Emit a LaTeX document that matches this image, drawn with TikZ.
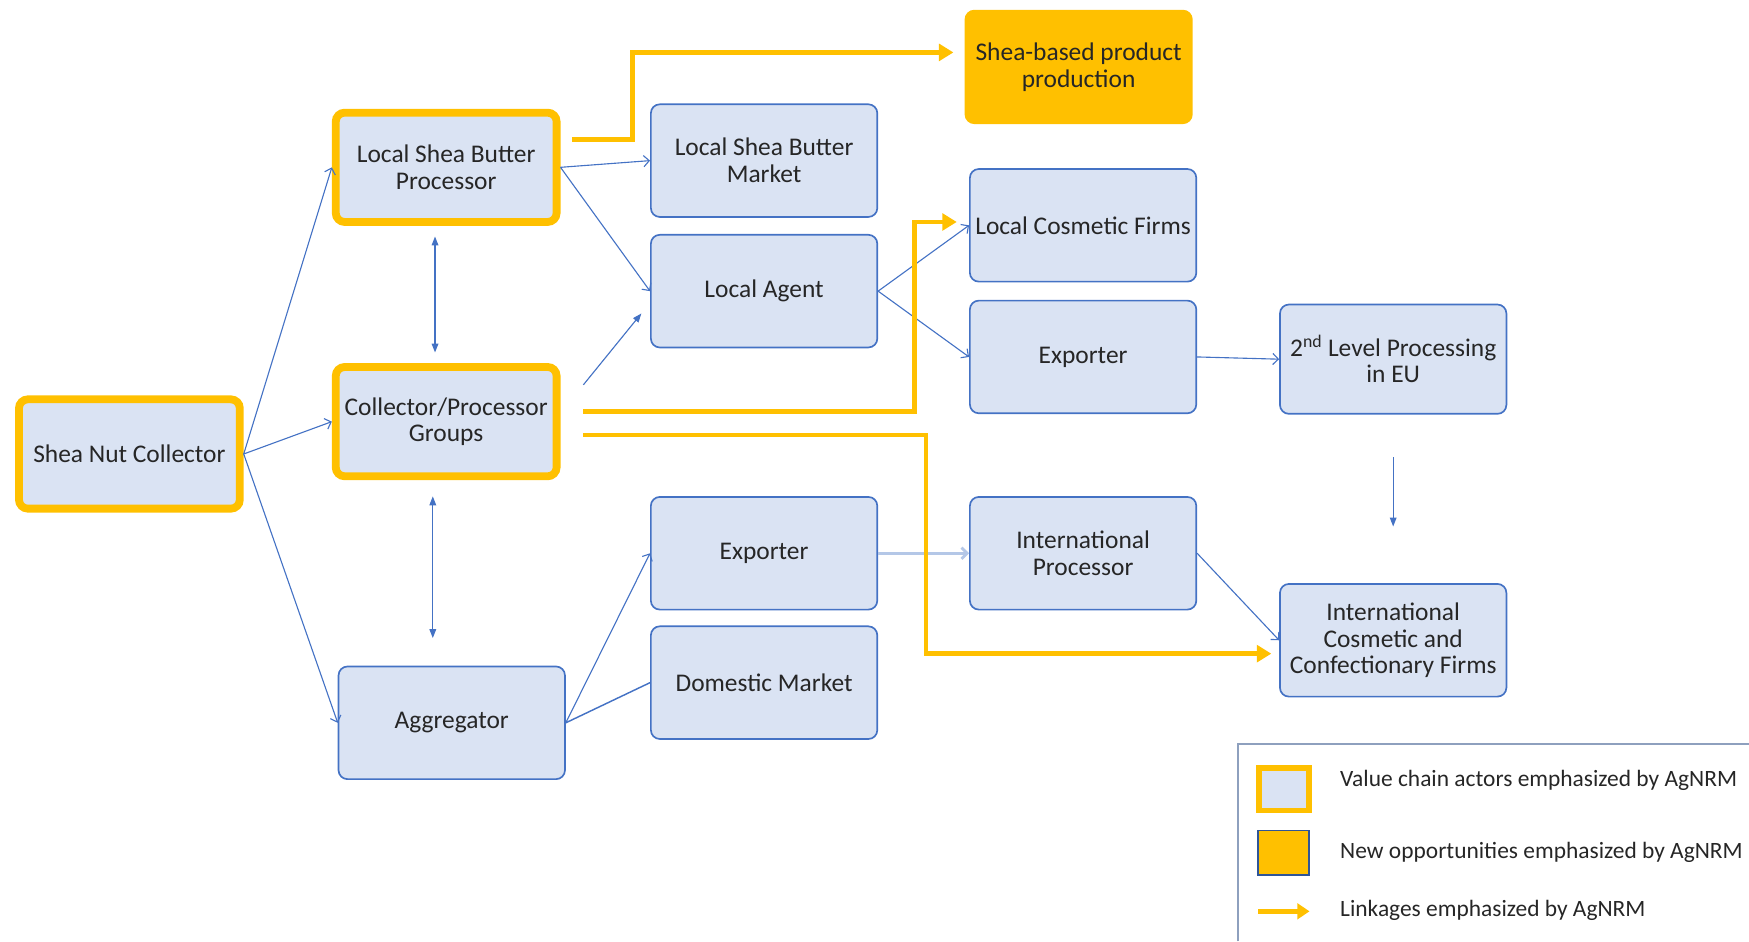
\documentclass[tikz,border=0pt]{standalone}
\usepackage{fontspec}
\setmainfont{Carlito}
\usetikzlibrary{arrows.meta,calc}
\definecolor{bfill}{HTML}{DAE3F3}
\definecolor{bline}{HTML}{4472C4}
\definecolor{orng}{HTML}{FFC000}
\definecolor{paleblue}{HTML}{B4C7E7}
\definecolor{darkblue}{HTML}{2F5597}
\definecolor{legline}{HTML}{8EA0BE}
\begin{document}
\begin{tikzpicture}[x=1pt,y=-1pt,
  box/.style={rounded corners=8pt, fill=bfill, draw=bline, line width=1.5pt,
    minimum width=203pt, minimum height=101pt, align=center, inner sep=2pt,
    text=black!85, font=\fontsize{22.8}{24}\selectfont},
  embox/.style={box, draw=orng, line width=7pt, minimum width=198pt, minimum height=98pt},
  bl/.style={draw=bline, line width=1pt, -{Straight Barb[length=5pt,width=10pt]}},
  tri/.style={draw=bline, line width=1pt, fill=bline},
  orline/.style={draw=orng, line width=4pt, -{Triangle[length=13pt,width=15pt]}},
  legtext/.style={anchor=west, text=black!85, font=\fontsize{21}{22}\selectfont}
]
\useasboundingbox (0,0) rectangle (1568,844);

% nodes
\node[embox] (snc) at (116,407) {Shea Nut Collector};
\node[embox] (lsbp) at (400,150) {Local Shea Butter\\Processor};
\node[embox] (cpg) at (400,378) {Collector/Processor\\Groups};
\node[box] (agg) at (405,648) {Aggregator};
\node[box] (lsbm) at (685,144) {Local Shea Butter\\Market};
\node[box] (la) at (685,261) {Local Agent};
\node[box] (exp1) at (685,496) {Exporter};
\node[box] (dom) at (685,612) {Domestic Market};
\node[box, fill=orng, draw=orng] (shea) at (967,60) {Shea-based product\\production};
\node[box] (lcf) at (971,202) {Local Cosmetic Firms};
\node[box] (exp2) at (971,320) {Exporter};
\node[box, minimum height=98pt] (lvl2) at (1249,322) {2\textsuperscript{nd} Level Processing\\in EU};
\node[box] (ip) at (971,496) {International\\Processor};
\node[box] (icc) at (1249,574) {International\\Cosmetic and\\Confectionary Firms};

% blue connectors
\draw[bl] (snc.east) -- (lsbp.west);
\draw[bl] (snc.east) -- (cpg.west);
\draw[bl] (snc.east) -- (agg.west);
\draw[bl] (lsbp.east) -- (lsbm.west);
\draw[bl] (lsbp.east) -- (la.west);
\draw[bl] (la.east) -- (lcf.west);
\draw[bl] (la.east) -- (exp2.west);
\draw[bl] (exp2.east) -- (lvl2.west);
\draw[bl] (agg.east) -- (exp1.west);
\draw[draw=bline, line width=1.3pt] (agg.east) -- (dom.west);
\draw[bl, draw=paleblue, line width=2.5pt] (exp1.east) -- (ip.west);
\draw[bl] (ip.east) -- (icc.west);

% double / free arrows
\coordinate (d1a) at (390,212);
\coordinate (d1b) at (390,316);
\draw[tri, {Triangle[length=8pt,width=6pt]}-{Triangle[length=8pt,width=6pt]}] (d1a) -- (d1b);
\coordinate (d2a) at (388,445);
\coordinate (d2b) at (388,572);
\draw[tri, {Triangle[length=8pt,width=6pt]}-{Triangle[length=8pt,width=6pt]}] (d2a) -- (d2b);
\coordinate (c1) at (523,345);
\coordinate (c2) at (575,281);
\draw[tri, -{Triangle[length=8pt,width=6pt]}] (c1) -- (c2);
\coordinate (v1) at (1249,410);
\coordinate (v2) at (1249,472);
\draw[tri, -{Triangle[length=8pt,width=6pt]}] (v1) -- (v2);

% orange linkages
\coordinate (o1) at (513,125);
\draw[orline] (o1) -- (567,125) -- (567,47) -- ($(shea.west)+(-10,-13)$);
\coordinate (o2) at (523,369);
\draw[orline] (o2) -- (820,369) -- (820,199) -- ($(lcf.west)+(-11,-3)$);
\coordinate (o3) at (523,390);
\draw[orline] (o3) -- (830,390) -- (830,586) -- ($(icc.west)+(-7,12)$);

% legend
\draw[draw=legline, line width=2pt] (1110,844) -- (1110,667) -- (1568,667);
\node[draw=orng, line width=5pt, fill=bfill, minimum width=45pt, minimum height=38pt, inner sep=0pt] (lg1) at (1151,707.5) {};
\node[draw=darkblue, line width=1.5pt, fill=orng, minimum width=46pt, minimum height=40pt, inner sep=0pt] (lg2) at (1150.5,764.5) {};
\coordinate (lg3a) at (1128,817);
\coordinate (lg3b) at (1174,817);
\draw[draw=orng, line width=4pt, -{Triangle[length=11pt,width=14pt]}] (lg3a) -- (lg3b);
\node[legtext] (t1) at (1198,700) {Value chain actors emphasized by AgNRM};
\node[legtext] (t2) at (1198,764) {New opportunities emphasized by AgNRM};
\node[legtext] (t3) at (1198,816) {Linkages emphasized by AgNRM};
\end{tikzpicture}
\end{document}
